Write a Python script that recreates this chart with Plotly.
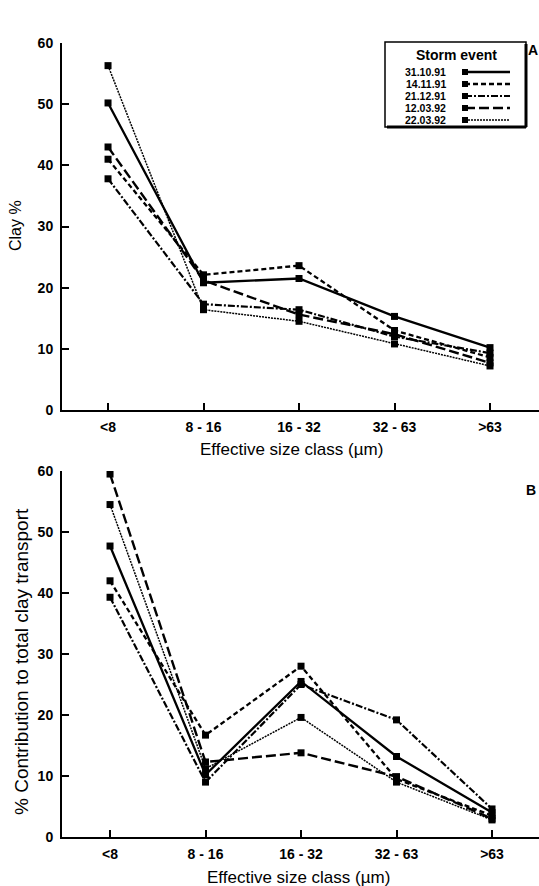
import plotly.graph_objects as go

categories = ["<8", "8 - 16", "16 - 32", "32 - 63", ">63"]
events = ["31.10.91", "14.11.91", "21.12.91", "12.03.92", "22.03.92"]

clay_31_10_91 = [50.2, 20.8, 21.5, 15.3, 10.2]
clay_14_11_91 = [41.0, 22.1, 23.6, 13.0, 8.6]
clay_21_12_91 = [37.8, 17.3, 16.4, 12.0, 9.3]
clay_12_03_92 = [43.0, 21.2, 15.6, 12.4, 7.7]
clay_22_03_92 = [56.3, 16.4, 14.5, 10.8, 7.2]

contrib_31_10_91 = [47.7, 10.2, 25.5, 13.2, 4.0]
contrib_14_11_91 = [42.0, 16.7, 28.0, 9.5, 3.5]
contrib_21_12_91 = [39.3, 9.0, 25.0, 19.2, 4.6]
contrib_12_03_92 = [59.5, 12.3, 13.8, 9.9, 3.0]
contrib_22_03_92 = [54.5, 11.2, 19.6, 9.0, 2.8]

y_ticks = [0, 10, 20, 30, 40, 50, 60]

clay = [clay_31_10_91, clay_14_11_91, clay_21_12_91, clay_12_03_92, clay_22_03_92]
contrib = [contrib_31_10_91, contrib_14_11_91, contrib_21_12_91, contrib_12_03_92, contrib_22_03_92]

styles = [
    dict(dash="solid", width=2.3),
    dict(dash="5px,3px", width=2.3),
    dict(dash="7px,2px,2px,2px", width=2.2),
    dict(dash="10px,4px", width=2.4),
    dict(dash="2px,1px", width=1.5),
]

W, H = 539, 886
ML, MR, MT, MB = 62, 0, 43, 49
PW, PH = W - ML - MR, H - MT - MB


def px(x):
    return (x - ML) / PW


def py(y):
    return (H - MB - y) / PH


fig = go.Figure()
for vals, st, name in zip(clay, styles, events):
    fig.add_trace(go.Scatter(x=categories, y=vals, mode="lines+markers", name=name,
                             line=dict(color="black", **st),
                             marker=dict(symbol="square", size=7, color="black"),
                             xaxis="x", yaxis="y", showlegend=False))
for vals, st, name in zip(contrib, styles, events):
    fig.add_trace(go.Scatter(x=categories, y=vals, mode="lines+markers", name=name,
                             line=dict(color="black", **st),
                             marker=dict(symbol="square", size=7, color="black"),
                             xaxis="x2", yaxis="y2", showlegend=False))

FONT = "Liberation Sans, Arial, sans-serif"
tickfont = dict(family=FONT, size=14, color="black", weight="bold")

axis_common = dict(showline=True, linecolor="black", linewidth=2, ticks="inside",
                   ticklen=7, tickwidth=1.5, tickcolor="black", showgrid=False,
                   zeroline=False, tickfont=tickfont)

fig.update_layout(
    width=W, height=H,
    margin=dict(l=ML, r=MR, t=MT, b=MB),
    paper_bgcolor="white", plot_bgcolor="white",
    showlegend=False,
    xaxis=dict(domain=[0, 1], anchor="y", type="category", range=[-0.482, 4.513],
               ticklabelstandoff=3, **axis_common),
    yaxis=dict(domain=[py(410), py(43)], anchor="x", range=[0, 60], tickvals=y_ticks,
               ticklabelstandoff=4, **axis_common),
    xaxis2=dict(domain=[0, 1], anchor="y2", type="category", range=[-0.503, 4.492],
                ticklabelstandoff=3, **axis_common),
    yaxis2=dict(domain=[py(837), py(471)], anchor="x2", range=[0, 60], tickvals=y_ticks,
                ticklabelstandoff=4, **axis_common),
)


def note(text, x, y, size, angle=0, xanchor="center", weight="normal"):
    return dict(text=text, x=px(x), y=py(y), xref="paper", yref="paper", textangle=angle,
                showarrow=False, xanchor=xanchor, yanchor="middle",
                font=dict(family=FONT, size=size, color="black", weight=weight))


ann = []
ann.append(note("Effective size class (µm)", 291, 449, 17))
ann.append(note("Effective size class (µm)", 298, 877, 17))
ann.append(note("Clay %", 15, 226, 16, angle=-90))
ann.append(note("% Contribution to total clay transport", 21, 662, 19, angle=-90))
ann.append(note("A", 533, 50, 14, weight="bold"))
ann.append(note("B", 531, 490, 14, weight="bold"))

# custom legend (label on the left, line sample on the right)
shapes = []
box_l, box_t, box_r, box_b = 385, 42, 526, 127
shapes.append(dict(type="rect", xref="paper", yref="paper", x0=px(box_l), x1=px(box_r),
                   y0=py(box_b), y1=py(box_t), line=dict(color="black", width=1.5),
                   fillcolor="white"))
shapes.append(dict(type="line", xref="paper", yref="paper", x0=px(box_r), x1=px(box_r),
                   y0=py(box_b), y1=py(box_t + 2), line=dict(color="black", width=3)))
shapes.append(dict(type="line", xref="paper", yref="paper", x0=px(box_l + 2), x1=px(box_r),
                   y0=py(box_b), y1=py(box_b), line=dict(color="black", width=3)))
ann.append(note("Storm event", 456, 55, 14, weight="bold"))
for i, (name, st) in enumerate(zip(events, styles)):
    yy = 72 + i * 12
    ann.append(note(name, 448, yy, 10.5, xanchor="right", weight="bold"))
    shapes.append(dict(type="line", xref="paper", yref="paper", x0=px(465), x1=px(510),
                       y0=py(yy), y1=py(yy), line=dict(color="black", **st)))
    shapes.append(dict(type="rect", xref="paper", yref="paper", x0=px(462), x1=px(468),
                       y0=py(yy + 3), y1=py(yy - 3), line=dict(width=0), fillcolor="black"))

fig.update_layout(annotations=ann, shapes=shapes)
fig.write_html("out.html")
